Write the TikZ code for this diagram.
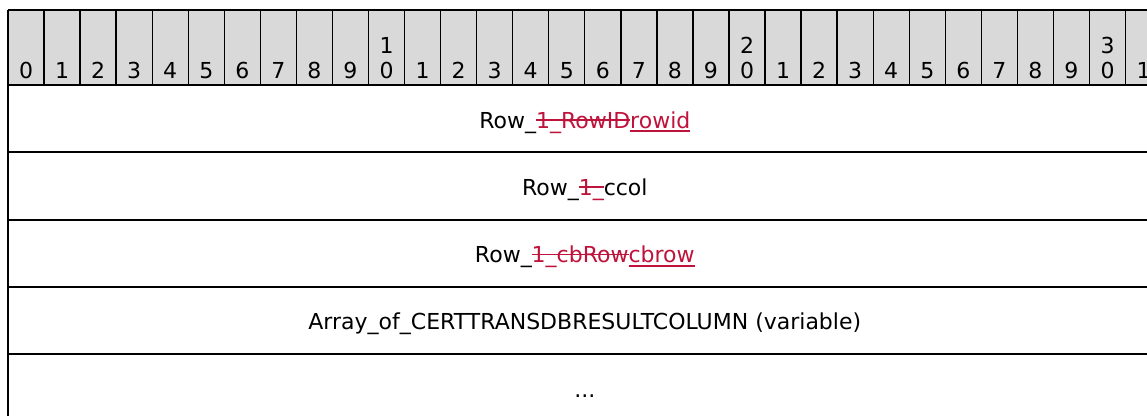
\documentclass[tikz,border=0pt]{standalone}
\usepackage{fontspec}
\setmainfont{DejaVu Sans}
\usepackage{xcolor}
\usepackage{tikz}
\usetikzlibrary{calc}

\definecolor{changered}{RGB}{190,20,60}
\newcommand{\deltext}[1]{{\color{changered}\setbox0\hbox{#1}\rlap{\rule[0.33em]{\wd0}{0.08em}}\box0}}
\newcommand{\instext}[1]{{\color{changered}\setbox0\hbox{#1}\rlap{\rule[-0.18em]{\wd0}{0.08em}}\box0}}

\begin{document}
\begin{tikzpicture}[x=0.75pt, y=-0.75pt,
		bitnum/.style={anchor=base, inner sep=0pt, font=\fontsize{16.5}{19}\selectfont},
		fieldname/.style={anchor=base, inner sep=0pt, font=\fontsize{16.5}{19}\selectfont},
		thinrule/.style={line width=1pt},
		thickrule/.style={line width=1.5pt}]
			\def\L{8}
			\def\W{36.05}
			\def\T{10}
			\def\B{85}
			\def\R{67.3}
			
			\useasboundingbox (0,0) rectangle (1147,415);
			\clip (0,0) rectangle (1147,415);
			
			\coordinate (header top left) at (\L,\T);
			\coordinate (header bottom right) at ({\L+32*\W},\B);
			\coordinate (field centre) at ({\L+16*\W},\B);
			
			\fill[black!15] (header top left) rectangle (header bottom right);
			
			\foreach \i in {0,...,31} {
				\draw[thinrule] ({\L+\i*\W},\T) -- ({\L+\i*\W},\B);
				\pgfmathtruncatemacro{\tens}{int(\i/10)}
				\pgfmathtruncatemacro{\units}{mod(\i,10)}
				\node[bitnum] (bit\i) at ({\L+(\i+0.5)*\W},78) {\units};
				\ifnum\units=0 \ifnum\tens>0
					\node[bitnum] (bit\i tens) at ({\L+(\i+0.5)*\W},53) {\tens};
				\fi\fi
			}
			
			\begin{scope}[thickrule]
				\draw (header top left) -- ++({32*\W},0);
				\draw (\L,\B) -- ++({32*\W},0);
				\foreach \k in {1,...,4}
					\draw (\L,{\B+\k*\R}) -- ++({32*\W},0);
				\draw (header top left) -- (\L,420);
			\end{scope}
			
			\node[fieldname] (rowid) at ($ (field centre) + (0,43) $) {Row\_\deltext{1\_RowID}\instext{rowid}};
			\node[fieldname] (ccol) at ($ (field centre) + (0,{43+\R}) $) {Row\_\deltext{1\_}ccol};
			\node[fieldname] (cbrow) at ($ (field centre) + (0,{43+2*\R}) $) {Row\_\deltext{1\_cbRow}\instext{cbrow}};
			\node[fieldname] (columns) at ($ (field centre) + (0,{43+3*\R}) $) {Array\_of\_CERTTRANSDBRESULTCOLUMN (variable)};
			\node[fieldname] (more) at ($ (field centre) + (0,{43+4*\R}) $) {...};
		\end{tikzpicture}
\end{document}
